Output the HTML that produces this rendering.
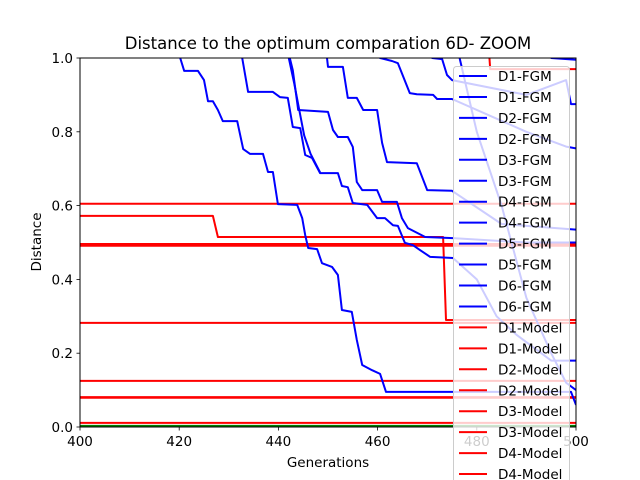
<!DOCTYPE html>
<html><head><meta charset="utf-8"><style>
body{margin:0;background:#fff;}
svg{display:block;font-family:"DejaVu Sans","Liberation Sans",sans-serif;}
</style></head><body>
<svg id="chart" width="640" height="480" xmlns="http://www.w3.org/2000/svg">
<rect width="640" height="480" fill="#fff"/>
<text x="328" y="49" text-anchor="middle" font-size="16.5">Distance to the optimum comparation 6D- ZOOM</text>
<defs><clipPath id="plotclip"><rect x="80" y="58" width="496" height="369"/></clipPath></defs>
<g id="series" clip-path="url(#plotclip)"></g>
<g id="axes"></g>
<g id="legend"></g>
<text x="328" y="467" text-anchor="middle" font-size="13.5">Generations</text>
<text transform="translate(41,242) rotate(-90)" text-anchor="middle" font-size="13.5">Distance</text>
</svg>
<script>
const xTicks = [400, 420, 440, 460, 480, 500];
const yTicks = [0.0, 0.2, 0.4, 0.6, 0.8, 1.0];
const yTickLabels = ["0.0", "0.2", "0.4", "0.6", "0.8", "1.0"];
const fgmA = [[419.8,1.03],[420.2,1.0],[421.0,0.965],[423.8,0.965],[425.0,0.94],[425.8,0.883],[426.8,0.883],[427.8,0.859],[428.8,0.829],[431.7,0.829],[432.9,0.753],[434.3,0.74],[436.9,0.74],[437.9,0.691],[438.9,0.691],[439.9,0.604],[443.8,0.602],[444.8,0.566],[445.4,0.52],[446.0,0.485],[447.8,0.482],[448.8,0.444],[450.8,0.434],[452.0,0.412],[452.8,0.317],[454.8,0.312],[455.8,0.236],[456.9,0.168],[458.9,0.154],[460.5,0.144],[461.7,0.095],[499.0,0.095],[500,0.06]];
const fgmB = [[432.5,1.03],[432.7,1.0],[433.9,0.908],[438.9,0.908],[440.3,0.894],[441.9,0.892],[442.9,0.813],[444.4,0.81],[445.4,0.737],[446.8,0.729],[448.4,0.688],[452.0,0.688],[452.8,0.653],[454.0,0.65],[455.0,0.607],[457.9,0.602],[459.9,0.566],[461.5,0.566],[463.1,0.547],[464.1,0.545],[465.5,0.499],[467.1,0.493],[468.5,0.48],[470.6,0.461],[475.2,0.458],[480,0.4],[484,0.3],[488,0.25],[495,0.18],[500,0.18]];
const fgmC = [[442.1,1.03],[442.3,1.0],[442.9,0.967],[444.0,0.859],[450.0,0.854],[451.0,0.805],[452.0,0.786],[454.0,0.786],[455.0,0.759],[455.8,0.664],[456.9,0.642],[459.9,0.642],[460.9,0.61],[463.9,0.61],[464.9,0.566],[466.1,0.539],[469.6,0.515],[475.2,0.512],[490,0.5],[500,0.5]];
const fgmD = [[449.7,1.03],[449.8,1.0],[450.0,0.976],[453.0,0.976],[454.0,0.892],[455.8,0.892],[457.1,0.859],[459.9,0.859],[460.9,0.77],[461.9,0.718],[467.9,0.715],[470.0,0.642],[475.0,0.64],[485,0.55],[500,0.535]];
const fgmE = [[460.3,1.03],[460.5,1.0],[462.9,0.992],[464.1,0.986],[466.5,0.905],[467.9,0.902],[471.2,0.9],[472.0,0.889],[475.0,0.889],[490,0.8],[498,0.76],[500,0.755]];
const fgmF = [[470.8,1.03],[471.0,1.0],[473.0,0.997],[474.0,0.954],[475.0,0.94],[490,0.9],[498,0.94],[499,0.875],[500,0.875]];
const fgmG = [[494,1.03],[495,1.0],[500,0.995]];
const fgmH = [[476,1.03],[480,0.8],[485,0.6],[490,0.35],[495,0.2],[498,0.12],[500,0.1]];
const fgmI = [[441.9,1.03],[442.1,1.0],[443.2,0.93],[444.2,0.86],[445.2,0.79],[446.5,0.74],[448.4,0.69]];
const modelLines = [
  [[400,0.605],[500,0.605]],
  [[400,0.572],[426.8,0.572],[427.8,0.515],[473.2,0.515],[473.8,0.29],[500,0.29]],
  [[400,0.496],[500,0.496]],
  [[400,0.491],[500,0.491]],
  [[400,0.282],[500,0.282]],
  [[400,0.125],[500,0.125]],
  [[400,0.081],[500,0.081]],
  [[400,0.079],[500,0.079]],
  [[400,0.011],[500,0.011]],
  [[482.4,1.03],[482.7,0.97],[500,0.97]]
];
const greenLine = [[400,0.003],[500,0.003]];
const legendLabels = ["D1-FGM","D1-FGM","D2-FGM","D2-FGM","D3-FGM","D3-FGM","D4-FGM","D4-FGM","D5-FGM","D5-FGM","D6-FGM","D6-FGM","D1-Model","D1-Model","D2-Model","D2-Model","D3-Model","D3-Model","D4-Model","D4-Model"];

const NS = "http://www.w3.org/2000/svg";
const X = g => 80 + (g - 400) * 496 / 100;
const Y = v => 427 - v * 369;
function mk(tag, attrs, parent){const e=document.createElementNS(NS,tag);for(const k in attrs)e.setAttribute(k,attrs[k]);parent.appendChild(e);return e;}
const series = document.getElementById('series');
function drawLine(pts, color, name){
  const d = pts.map((p,i)=>(i?'L':'M')+X(p[0]).toFixed(1)+' '+Y(p[1]).toFixed(1)).join(' ');
  const p = mk('path',{d:d,fill:'none',stroke:color,'stroke-width':2,'stroke-linejoin':'round'},series);
  
  
}
drawLine(greenLine,'#008000','green-baseline');
modelLines.forEach((l,i)=>drawLine(l,'#ff0000','model-line-'+(i+1)));
[fgmA,fgmB,fgmC,fgmD,fgmE,fgmF,fgmG,fgmH,fgmI].forEach((l,i)=>drawLine(l,'#0000ff','fgm-line-'+(i+1)));

const axes = document.getElementById('axes');
const frame = mk('rect',{x:80,y:58,width:496,height:369,fill:'none',stroke:'#000','stroke-width':1},axes);


xTicks.forEach(t=>{
  mk('line',{x1:X(t),x2:X(t),y1:427,y2:430.5,stroke:'#000','stroke-width':0.8},axes);
  const tx = mk('text',{x:X(t),y:446,'text-anchor':'middle','font-size':13.5},axes);
  tx.textContent = String(t);
  
  
});
yTicks.forEach((t,i)=>{
  mk('line',{x1:76.5,x2:80,y1:Y(t),y2:Y(t),stroke:'#000','stroke-width':0.8},axes);
  const tx = mk('text',{x:73,y:Y(t)+5,'text-anchor':'end','font-size':13.5},axes);
  tx.textContent = yTickLabels[i];
  
  
});

const legend = document.getElementById('legend');
const box = mk('rect',{x:453.5,y:66.5,width:116,height:430,rx:3,fill:'rgba(255,255,255,0.8)',stroke:'#cccccc','stroke-width':1},legend);


legendLabels.forEach((lab,i)=>{
  const y = 76 + i*20.95;
  const col = lab.indexOf('FGM')>=0 ? '#0000ff' : '#ff0000';
  const ln = mk('line',{x1:459,x2:487,y1:y,y2:y,stroke:col,'stroke-width':2},legend);
  
  
  const tx = mk('text',{x:498,y:y+5,'font-size':13.5},legend);
  tx.textContent = lab;
  
  
});
</script>
</body></html>
